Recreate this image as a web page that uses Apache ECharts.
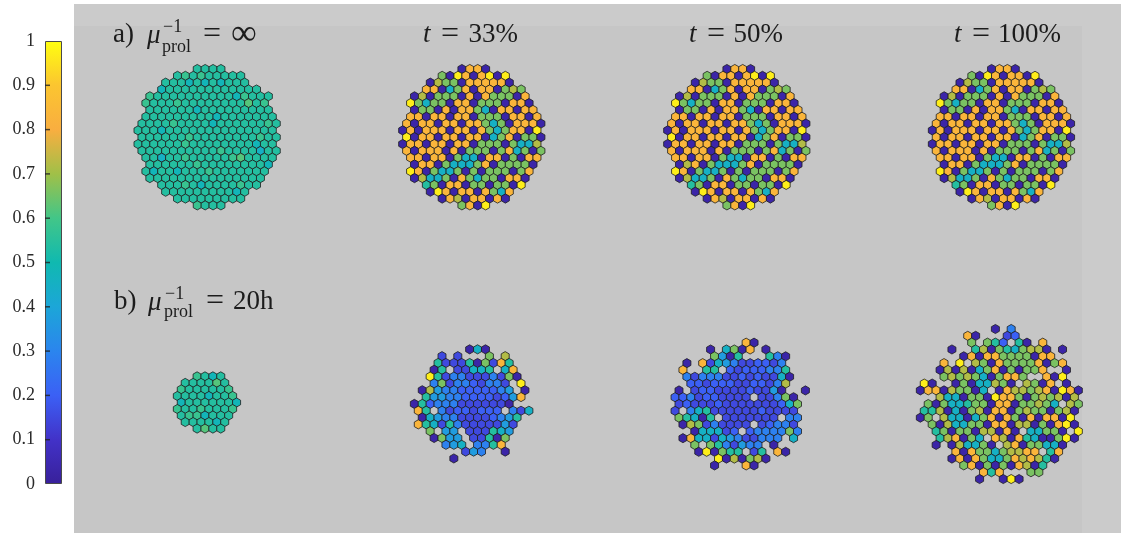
<!DOCTYPE html>
<html>
<head>
<meta charset="utf-8">
<title>cell maps</title>
<script src="https://cdn.jsdelivr.net/npm/echarts@6/dist/echarts.min.js"></script>
<style>
html, body { margin: 0; padding: 0; background: #fff; }
#main { width: 1121px; height: 533px; }
</style>
</head>
<body>
<div id="main"></div>
<script>
// value of each colour letter used in the rows below
var levels = {
    P: 0.03, D: 0.15, B: 0.2, A: 0.29, E: 0.37, C: 0.45, c: 0.48, T: 0.54, g: 0.58,
    f: 0.62, G: 0.66, L: 0.72, O: 0.83, Y: 0.97
};
var colorbarTicks = [0, 0.1, 0.2, 0.3, 0.4, 0.5, 0.6, 0.7, 0.8, 0.9, 1];
var colorbarColors = ['#38209a', '#4232c8', '#3b60f5', '#2b85ee', '#1ca6d8', '#10b9b0',
    '#42c688', '#a0c048', '#f9ae40', '#fbc530', '#ffff10'];

// one string per row of the hex lattice, '.' is an empty site
var cellsA0 = [
    '.......TTTT', '.....TgTgTTTTT', '...TTTcTcTcTTT', '...cTTTTTTTTTTTT', '.gTTTTTTTTTTcgTTT',
    '.gTTTgTTTTTTTTfTg', '.TTTTTTcTTTTTTTTT', '.TTTTTTTTTcTTTTTTT', 'TTTTgTTTTcTTTTTTgT',
    'TTTcTTTTTTTTTTTTTT', 'TTTTTTgTTTTTTTTgTT', 'TTTTTTgTTTTTTTTcTT', 'TTTTTTTTTTgTTTTCTT',
    '.TTCTTgTTTTTgfTTTT', '.TTTTTTgTTTTTTTTc', '.TcTTcTTTgTTTTTTT', '.TTTTTTTTTTTTTTT',
    '...TTTgTcTTTTgTT', '...TTTTTTTTTcT', '.....TTTTTTTTT', '.......gTTT'
];
var cellsA33 = [
    '.......POOP', '.....GPYOPOYPY', '...PLGGPOOOOOP', '...OOPCGOPOOPGLG', '.PLPGGGPOPOGGGPO',
    '.YGCGGPOOPGGGPOOP', '.PGGPOPOOGCPOOPOO', '.OOPOOPOOPGGGPOOPO', 'OPOOPOOPOOGCGPOOOP',
    'POPOOOPOOPOGCGOOPY', 'YPOOPOOPOOPCGOPGGP', 'POOPOOPOOPGGGPGCCL', 'OPOOOPOPGGGPGOCGPG',
    '.OOPOOPGCCPOOPGPOO', '.POOPGCCCGOPGGGGP', '.YOPGCCGPGPGGGPGO', '.PLCCGPOGCGGPOOP',
    '...TGPOOPGGPGGPY', '...PYOPOOPOGCO', '.....POLPOOPOP', '.......GOPY'
];
var cellsA50 = [
    '.......POOP', '.....GPOOPOYPY', '...PLGGPOOOOOP', '...OOPCGOPOOPGLG', '.PLPGGGPOPOGGGPO',
    '.YGCGGPOOPGGGPOOP', '.PGGPOPOOGCPOOPOO', '.OOPOOPOOPGGGPOOPO', 'OPOOPOOPOOGCGPOOOP',
    'POPOOOPOOPOGCGOOPY', 'YPOOPOOPOOPCGOPGGP', 'POOPOOPOOPGGGPGCCL', 'OPOOOPOPGGGPGOCGPG',
    '.OOPOOPGCCPOOPGPOO', '.PLOPGCCCGOPGGGGP', '.YOPGCCGPGPGGGPGO', '.PLCCGPOGCGGPOOP',
    '...TGPOOPGGPGGPY', '...PYOPOOPOGCO', '.....POLPOOPOP', '.......GOPY'
];
var cellsA100 = [
    '.......POOP', '.....GPYOPOOPY', '...PLGGPOOOOOP', '...OOPCGOPOOPGLG', '.PLPGGGPOPOGGGPO',
    '.YGCGGPOOPGGGPOOP', '.PGGPOPOOGCPOOPOO', '.OOPOOPOOPGGGPOOPO', 'OPOOPOOPOOGCGPOOOP',
    'POPOOOPOOPOGCGOOPY', 'OPOOPOOPOOPCGOPGGP', 'POOPOOPOOPGGGPGCCL', 'OPOOOPOPGGGPGOCGPG',
    '.OOPOOPGCCPOOPGPOO', '.POOPGCCCGOPGGGGP', '.YOPGCCGPGPGGGPGO', '.PLCCGPOGCGGPOOP',
    '...TGPOOPGGPGGPY', '...PYOPOOPOGCO', '.....POLPOOPOP', '.......GOPY'
];
var cellsB0 = [
    '..gTcT', '.TTTTfT', 'gTTTTTg', 'TTTTcTTg', 'cTTTTTTc', 'gTTgTTTg', 'TggcTTT', '.TTTTcT', '..TfTT'
];
var cellsB33 = [
    '.......PCP', '....D.D...G.L', '...TDDDTPGDOT', '...PT.DDCCT.CO', '..YTDAADDDADGP',
    '...AGDAABDAAD.Y', '.PLEAABBBBBAE.P', '..TEEAABBBBDBEO', 'PTBAAADDDDDDP',
    '.OT.ADBBDBBB.ADC', '.PCEAADDDDBAET', '.OTCDTADDDDDED', '..G.EE.DDDTCE',
    '...PGEE.DDTPG', '....AEC.AATO', '.......DEA..P', '.....P'
];
var cellsB50 = [
    '.........OP', '.....P.CGPO.P', '.....GEPT...TAP', '..P.ODCEADDBBDA', '.O..TT.BDBBBAAT',
    '..ADAAADDBDBDDCP', '..BBDBBBDDBBDAL', '.P.DBBDDDDBDDEP..P', 'BBADBBDDDD.DDAGP',
    '.DBDDDBDDDDDDDBCG', 'D.ACTDDDDDDBDDDD', '.GTCPT.DDDDDDD.AA', '.PLGDADDDD.DBAAD',
    '...PCCCDB.BAAAAGA', '.POCCDCEADDAAA.C', '...G.GTADEAA.P', '...PYPGTT.DT.OP',
    '......YPLPGLP', '.....P...OP'
];
var cellsB100 = [
    '.........P.A', '......OP...DB', '......G.GTB.TP.O', '....P..TLPGTCGLLP.P', '.....POPOOGGGGPOO',
    '...O.Y.LGPOGGGGOPGO', '..PLPLPCGOPGPGGO..P', '...GLGLGCPGOOG..OPY', 'YP..PGPCCLGP.LGPO.P',
    'POOPLGGPC.POLLGLOPYOP', '..LCCPGGPYOOGPGLGLPL', '.GPGCCTGGPOOPGGLGC.LG', 'TTLPCPGLPOOPGLGGPGLP',
    'PG.LCCPCGOPOGPOPOOPY', '.GPLCCGGPOOPLLPGPOYP', '..TGPGGPLLPOP.CCGGP.Y', '..TLOPGC.OLPOTCPPGYP',
    '..P.PLCCGP.LOPGGCCP', '....OPOGGCGLLOO.TO', '....POPOGCCGOLOLTP', '.....GOPGPGPOLPT',
    '........OTO...GG', '.......P..PYP'
];

var panels = [
    { rows: cellsA0, left: 138, top: 69 },
    { rows: cellsA33, left: 402.67, top: 69 },
    { rows: cellsA50, left: 667.67, top: 69 },
    { rows: cellsA100, left: 932.33, top: 69 },
    { rows: cellsB0, left: 177.33, top: 376.67 },
    { rows: cellsB33, left: 410.4, top: 349.33 },
    { rows: cellsB50, left: 671.1, top: 342.67 },
    { rows: cellsB100, left: 920.33, top: 329 }
];

var HEX = 'path://M0 -1L0.866 -0.5L0.866 0.5L0 1L-0.866 0.5L-0.866 -0.5Z';
var STEP_X = 7.9, STEP_Y = 6.82;
var COLS = 24, ROWS = 25;
var SERIF = '"Liberation Serif", serif';

function rowsToData(rows) {
    var out = [];
    rows.forEach(function (row, r) {
        for (var c = 0; c < row.length; c++) {
            if (row[c] === '.') continue;
            // even rows sit half a cell to the right
            out.push([r % 2 ? c : c + 0.5, r, levels[row[c]]]);
        }
    });
    return out;
}

function label(text, x, y, size, opts) {
    opts = opts || {};
    return {
        type: 'text', z: 10, silent: true,
        style: {
            text: text, x: x, y: y,
            fill: '#1c1c1c',
            font: (opts.italic ? 'italic ' : '') + size + 'px ' + SERIF,
            textAlign: opts.align || 'left', textVerticalAlign: 'middle'
        }
    };
}

var grids = [], xAxes = [], yAxes = [], series = [];
panels.forEach(function (p, i) {
    grids.push({
        left: p.left - STEP_X, top: p.top - STEP_Y,
        width: COLS * STEP_X, height: ROWS * STEP_Y
    });
    xAxes.push({ type: 'value', gridIndex: i, min: -1, max: COLS - 1, show: false });
    yAxes.push({ type: 'value', gridIndex: i, min: -1, max: ROWS - 1, inverse: true, show: false });
    series.push({
        type: 'scatter', xAxisIndex: i, yAxisIndex: i,
        data: rowsToData(p.rows),
        symbol: HEX, symbolSize: [8, 9.1],
        itemStyle: { borderColor: '#1e1e1e', borderWidth: 0.8, opacity: 1 },
        clip: false, silent: true
    });
});

// colorbar
var cbIndex = panels.length;
grids.push({ left: 45, top: 41, width: 17, height: 443 });
xAxes.push({ type: 'category', gridIndex: cbIndex, data: ['c'], show: false });
yAxes.push({
    type: 'value', gridIndex: cbIndex, min: 0, max: 1, interval: 0.1,
    splitLine: { show: false },
    axisLine: { show: false },
    axisTick: { show: false },
    axisLabel: {
        color: '#2a2a2a', fontFamily: SERIF, fontSize: 18, margin: 10,
        formatter: function (v) { return colorbarTicks.indexOf(v) >= 0 ? String(v) : ''; }
    }
});
series.push({
    type: 'bar', xAxisIndex: cbIndex, yAxisIndex: cbIndex,
    data: [1], barWidth: '100%', silent: true,
    itemStyle: {
        borderColor: '#4a4a4a', borderWidth: 1,
        color: new echarts.graphic.LinearGradient(0, 1, 0, 0, colorbarColors.map(function (c, i) {
            return { offset: colorbarTicks[i], color: c };
        }))
    }
});
// tick marks have to sit on top of the bar
series.push({
    type: 'scatter', xAxisIndex: cbIndex, yAxisIndex: cbIndex, z: 5, silent: true,
    data: colorbarTicks.slice(1, -1).map(function (v) { return ['c', v]; }),
    symbol: 'rect', symbolSize: [5, 1.5], symbolOffset: [-6, 0],
    itemStyle: { color: '#222' }
});

var texts = [
    { type: 'rect', z: -2, silent: true, shape: { x: 74, y: 4, width: 1047, height: 529 }, style: { fill: '#cbcbcb' } },
    { type: 'rect', z: -1, silent: true, shape: { x: 74, y: 26, width: 1008, height: 507 }, style: { fill: '#c6c6c6' } },

    label('a)', 113, 35, 27),
    label('\u03bc', 147, 36, 27, { italic: true }),
    label('\u22121', 163, 27, 18),
    label('prol', 162, 47, 18),
    label('=', 203, 35, 32),
    label('\u221e', 231, 35, 36),

    label('b)', 114, 302, 27),
    label('\u03bc', 148, 303, 27, { italic: true }),
    label('\u22121', 165, 294, 18),
    label('prol', 164, 312, 18),
    label('=', 206, 302, 32),
    label('20h', 233, 302, 27),

    label('t', 423, 35, 27, { italic: true }),
    label('=', 441, 35, 32),
    label('33%', 518, 35, 27, { align: 'right' }),
    label('t', 689, 35, 27, { italic: true }),
    label('=', 707, 35, 32),
    label('50%', 783, 35, 27, { align: 'right' }),
    label('t', 954, 35, 27, { italic: true }),
    label('=', 972, 35, 32),
    label('100%', 1061, 35, 27, { align: 'right' })
];

var myChart = echarts.init(document.getElementById('main'), null, { renderer: 'canvas' });
myChart.setOption({
    animation: false,
    backgroundColor: '#ffffff',
    grid: grids,
    xAxis: xAxes,
    yAxis: yAxes,
    visualMap: {
        type: 'continuous', show: false, min: 0, max: 1, dimension: 2,
        seriesIndex: panels.map(function (p, i) { return i; }),
        inRange: { color: colorbarColors }
    },
    graphic: { elements: texts },
    series: series
});
</script>
</body>
</html>
